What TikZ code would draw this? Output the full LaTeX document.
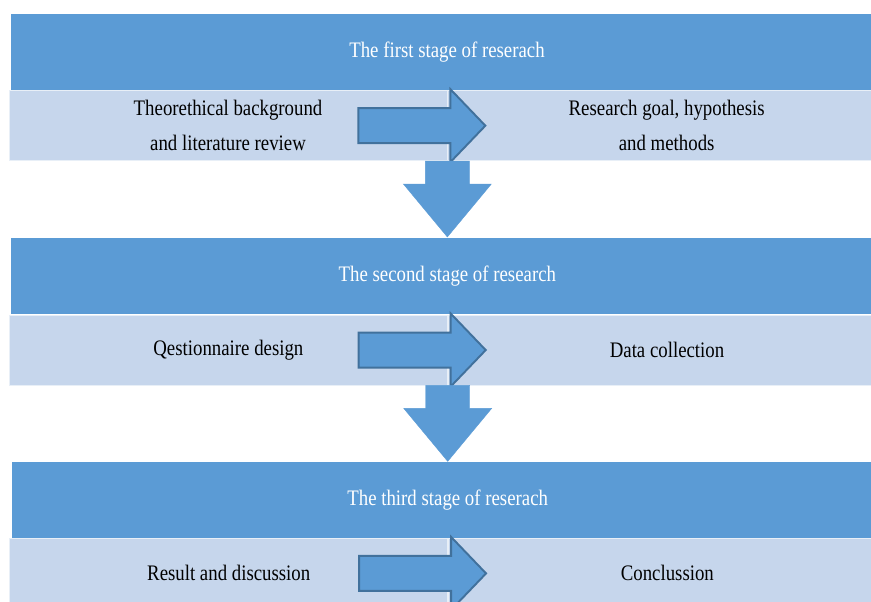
\documentclass[tikz,border=0pt]{standalone}
\usepackage{fontspec}
\setmainfont{Liberation Serif}[FakeStretch=0.85]
\usetikzlibrary{positioning}

\definecolor{stageblue}{HTML}{5B9BD5}
\definecolor{boxblue}{HTML}{C6D6EC}
\definecolor{edgeblue}{HTML}{41719C}

\tikzset{
	stage/.style={fill=stageblue, text=white, minimum width=17.44cm, minimum height=1.52cm,
		inner sep=0pt, font=\fontsize{12.6}{19.9}\selectfont},
	task/.style={fill=boxblue, draw=boxblue!40!white, line width=0.4pt, minimum width=8.76cm,
		minimum height=1.4cm, inner sep=0pt, align=center, font=\fontsize{12.6}{19.9}\selectfont},
	rarrow/.style={fill=stageblue, draw=edgeblue, line width=1.1pt, line join=miter},
	darrow/.style={fill=stageblue, draw=stageblue, line width=0.2pt}
}

\begin{document}
\begin{tikzpicture}[x=0.02cm, y=-0.02cm]

		\useasboundingbox (0,0) rectangle (871,601);
		\clip (0,0) rectangle (871,601);

		% first stage
		\node[stage] (stage1) at (447,52) {The first stage of reserach};
		\node[task] (theory) [below right=0pt and -0.04cm of stage1.south west] {Theorethical background\\and literature review};
		\node[task] (goal) [right=0pt of theory] {Research goal, hypothesis\\and methods};

		% second stage
		\node[stage] (stage2) [below=1.54cm of theory.south east] {The second stage of research};
		\node[task] (quest) [below right=0pt and -0.04cm of stage2.south west] {Qestionnaire design};
		\node[task] (data) [right=0pt of quest] {Data collection};

		% third stage
		\node[stage] (stage3) [below=1.52cm of quest.south east] {The third stage of reserach};
		\node[task] (result) [below right=0pt and -0.04cm of stage3.south west] {Result and discussion};
		\node[task] (concl) [right=0pt of result] {Conclussion};

		% block arrows
		\draw[rarrow] (theory.east) ++(-89,-17.5) -- ++(92,0) -- ++(0,-19) -- ++(35,36.5) -- ++(-35,36.5) -- ++(0,-19) -- ++(-92,0) -- cycle;
		\draw[rarrow] (quest.east) ++(-89,-17.5) -- ++(92,0) -- ++(0,-19) -- ++(35,36.5) -- ++(-35,36.5) -- ++(0,-19) -- ++(-92,0) -- cycle;
		\draw[rarrow] (result.east) ++(-89,-17.5) -- ++(92,0) -- ++(0,-19) -- ++(35,36.5) -- ++(-35,36.5) -- ++(0,-19) -- ++(-92,0) -- cycle;

		\draw[darrow] (theory.south east) ++(-22,0) -- ++(44,0) -- ++(0,23) -- ++(22,0) -- ++(-44,53) -- ++(-44,-53) -- ++(22,0) -- cycle;
		\draw[darrow] (quest.south east) ++(-22,0) -- ++(44,0) -- ++(0,23) -- ++(22,0) -- ++(-44,53) -- ++(-44,-53) -- ++(22,0) -- cycle;

	\end{tikzpicture}
\end{document}
